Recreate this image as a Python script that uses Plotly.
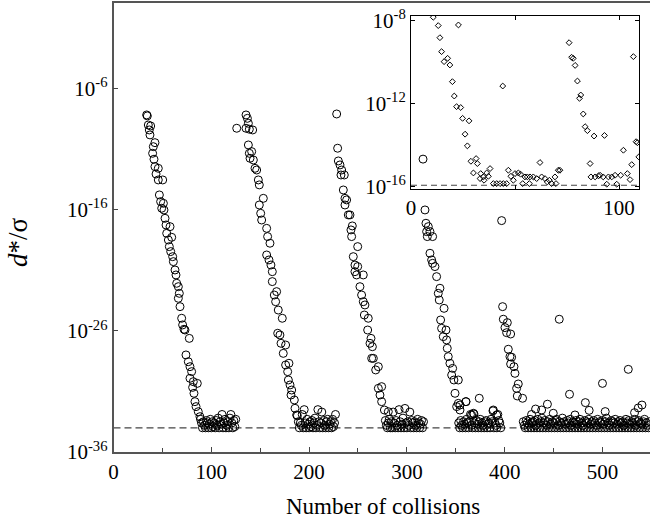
import numpy as np
import plotly.graph_objects as go

# ---------------- main panel data (collision number, log10(d*/sigma)) ----------------
burst1_x = [33.9, 34.6, 35.6, 38.0, 36.6, 37.3, 42.4, 40.7, 40.0, 41.4, 42.4, 45.8, 43.5, 45.8, 50.3,
            46.9, 48.2, 51.0, 49.3, 51.6, 52.7, 53.7, 57.8, 54.4, 56.1, 59.5, 57.1, 58.5, 60.5, 61.2,
            62.9, 63.9, 64.6, 66.3, 67.3, 66.3, 68.0, 69.7, 70.7, 73.1, 72.1, 77.5, 74.1, 76.5, 78.2,
            79.9, 78.2, 81.6, 85.7, 80.9, 82.3, 83.3, 84.4, 86.7, 88.4]
burst1_log = [-8.15, -8.23, -8.98, -9.06, -9.39, -9.80, -10.44, -10.77, -11.32, -11.81, -12.42, -12.56,
              -13.03, -13.52, -13.52, -14.76, -15.31, -15.45, -15.86, -16.0, -16.69, -17.24, -17.38,
              -17.93, -18.48, -18.26, -19.03, -19.44, -19.86, -20.27, -20.96, -21.37, -22.06, -22.34,
              -22.89, -23.3, -23.99, -24.95, -25.5, -25.92, -25.86, -26.61, -27.98, -28.54, -28.95,
              -29.36, -29.91, -30.19, -30.33, -30.66, -31.15, -31.84, -32.25, -32.67, -33.08]

burst2_x = [126.0, 135.5, 136.9, 137.9, 135.5, 138.9, 142.3, 137.9, 138.9, 141.3, 139.6, 143.0, 144.7,
            146.4, 148.1, 149.1, 153.2, 149.1, 150.5, 151.5, 156.6, 157.6, 160.0, 156.6, 159.0, 161.0,
            162.4, 162.4, 166.8, 164.4, 165.8, 168.5, 172.6, 167.9, 170.2, 171.3, 176.0, 173.6, 179.4,
            176.0, 178.1, 178.8, 180.5, 182.2, 181.5, 184.9, 185.6, 187.3]
burst2_log = [-9.25, -8.15, -8.43, -8.84, -9.25, -9.33, -9.39, -10.63, -11.32, -11.18, -11.73, -11.87,
              -12.56, -12.7, -13.52, -13.93, -15.04, -15.59, -16.28, -16.83, -17.52, -18.2, -18.75,
              -19.72, -20.13, -20.55, -21.1, -21.92, -22.75, -23.03, -23.58, -24.27, -24.95, -26.19,
              -26.33, -27.02, -27.16, -27.85, -28.67, -28.81, -29.36, -30.05, -30.46, -30.88, -31.29,
              -31.7, -32.39, -32.94]

burst3_x = [228.2, 229.2, 229.9, 231.6, 233.3, 236.0, 232.6, 235.0, 236.7, 238.4, 236.7, 240.1, 241.8,
            244.2, 242.8, 243.5, 249.7, 245.2, 246.9, 249.7, 246.9, 248.6, 255.4, 252.0, 253.7, 255.4,
            257.1, 256.5, 260.5, 259.9, 263.3, 262.3, 264.7, 264.0, 265.7, 270.8, 268.1, 274.2, 270.8,
            272.5, 274.2, 277.0, 281.0]
burst3_log = [-8.07, -10.9, -11.95, -12.28, -12.7, -13.11, -13.11, -14.35, -15.04, -15.17, -15.59,
              -16.41, -16.41, -17.32, -17.65, -18.2, -19.03, -19.86, -20.55, -20.68, -21.1, -21.37,
              -21.37, -22.34, -23.03, -23.58, -23.85, -24.68, -24.95, -25.92, -26.61, -27.02, -27.3,
              -28.26, -28.26, -28.95, -29.22, -30.6, -30.74, -31.29, -31.84, -32.53, -32.67]

burst4_x = [316.5, 318.5, 319.5, 321.9, 320.2, 323.6, 320.9, 326.3, 323.6, 325.3, 326.3, 328.7, 330.4,
            333.8, 332.1, 333.1, 338.0, 334.5, 335.5, 340.0, 337.2, 340.6, 341.3, 342.3, 344.0, 346.8,
            345.8, 348.1, 352.6, 349.2, 352.6, 354.3, 350.9, 360.4, 354.3]
burst4_log = [-11.8, -16.0, -17.1, -17.38, -17.79, -17.79, -18.2, -18.2, -19.58, -20.13, -20.41, -20.68,
              -21.51, -22.47, -22.89, -23.44, -24.13, -25.09, -25.78, -25.92, -26.47, -26.74, -27.43,
              -28.12, -28.67, -29.09, -29.64, -30.05, -30.05, -31.15, -31.98, -32.12, -32.25, -31.84,
              -32.53]

burst5_x = [396.9, 397.9, 398.6, 402.7, 400.3, 402.0, 406.1, 403.7, 405.4, 407.1, 406.1, 409.5, 410.5,
            413.9, 412.2, 412.9, 418.3]
burst5_log = [-16.88, -23.99, -25.03, -25.31, -25.72, -26.14, -26.25, -27.51, -28.12, -28.17, -28.73,
              -28.95, -29.5, -30.38, -30.74, -31.37, -31.56]

# plateau values (one per collision) after each burst
floor1_start = 89
floor1_log = [-33.3, -33.6, -34.0, -33.5, -33.8, -34.0, -33.4, -33.6, -34.0, -33.7, -33.3, -34.0, -33.5,
              -33.9, -33.6, -34.0, -33.4, -33.8, -33.2, -34.0, -33.5, -33.7, -32.9, -34.0, -33.6, -33.3,
              -34.0, -33.8, -33.5, -34.0, -33.2, -32.9, -33.6, -34.0, -33.4, -33.9, -33.3]
floor2_start = 188
floor2_log = [-33.0, -33.5, -34.0, -33.6, -33.8, -32.9, -34.0, -32.5, -33.6, -34.0, -33.3, -33.7, -34.0,
              -33.5, -33.9, -33.4, -34.0, -33.6, -33.2, -34.0, -33.8, -32.5, -33.5, -34.0, -33.6, -32.7,
              -34.0, -33.4, -33.8, -34.0, -33.5, -33.3, -34.0, -33.7, -33.5, -34.0, -33.3, -33.9, -33.6,
              -32.9]
floor3_start = 278
floor3_log = [-33.4, -33.8, -34.0, -33.6, -33.3, -34.0, -33.5, -34.0, -32.7, -33.6, -34.0, -33.4, -33.8,
              -34.0, -32.5, -33.5, -34.0, -33.7, -33.2, -34.0, -32.4, -33.6, -34.0, -33.5, -33.8, -32.7,
              -34.0, -33.4, -33.6, -34.0, -33.5, -33.8, -34.0, -33.3, -33.6, -34.0, -33.7, -33.4, -34.0,
              -33.5]
floor4_start = 353
floor4_log = [-33.6, -34.0, -33.4, -33.8, -34.0, -33.5, -33.7, -34.0, -33.3, -33.6, -34.0, -33.5, -32.9,
              -33.8, -34.0, -32.8, -33.6, -34.0, -33.4, -33.7, -34.0, -33.5, -33.3, -34.0, -33.6, -33.8,
              -34.0, -33.5, -33.4, -34.0, -33.7, -33.6, -34.0, -33.3, -33.5, -32.6, -34.0, -33.6, -33.8,
              -34.0, -32.9, -33.4, -33.6, -34.0]
floor5_start = 419
floor5_log = [-33.5, -33.8, -34.0, -33.4, -33.6, -34.0, -33.7, -33.3, -34.0, -33.6,
              -33.5, -34.0, -33.4, -33.8, -34.0, -33.3, -33.6, -34.0, -33.5, -33.2,
              -34.0, -33.6, -33.4, -34.0, -33.8, -33.5, -34.0, -33.3, -33.7, -34.0,
              -33.5, -33.6, -34.0, -33.4, -33.3, -34.0, -33.8, -33.5, -34.0, -33.6,
              -33.2, -34.0, -33.5, -33.7, -34.0, -33.4, -33.6, -34.0, -33.3, -33.8,
              -34.0, -33.5, -33.6, -34.0, -33.4, -33.7, -34.0, -33.5, -33.3, -34.0,
              -33.6, -33.8, -34.0, -33.4, -33.5, -34.0, -33.6, -33.3, -34.0, -33.7,
              -33.5, -34.0, -33.4, -33.6, -34.0, -33.8, -33.3, -34.0, -33.5, -33.6,
              -34.0, -33.4, -33.7, -34.0, -33.5, -33.2, -34.0, -33.6, -33.8, -34.0,
              -33.4, -33.5, -34.0, -33.6, -33.3, -34.0, -33.7, -33.5, -34.0, -33.4,
              -33.6, -34.0, -33.5, -33.8, -34.0, -33.3, -33.6, -34.0, -33.4, -33.7,
              -34.0, -33.5, -33.6, -34.0, -33.3, -33.8, -34.0, -33.5, -33.4, -34.0,
              -33.6, -33.7, -34.0, -33.5, -33.3, -34.0, -33.6, -33.8, -34.0, -33.5]

# isolated excursions above the plateau
spikes_x = [360.4, 366.2, 368.6, 374.0, 388.4, 391.8, 427.5, 431.6, 437.8, 443.7, 449.7, 455.8, 466.3,
            471.9, 482.5, 486.4, 500.0, 502.8, 526.4, 532.8, 536.6, 540.4]
spikes_log = [-31.84, -32.94, -32.86, -31.56, -32.53, -32.94, -32.9, -32.45, -32.53, -32.05, -32.8,
              -25.03, -31.23, -32.94, -31.92, -32.56, -30.33, -32.66, -29.17, -32.75, -32.36, -32.12]

noise_floor_main = 1e-34

# ---------------- inset data ----------------
inset_x = [10.7, 13.1, 13.9, 14.7, 15.9, 17.6, 18.7, 22.8, 19.9, 20.8, 21.9, 23.9, 24.8, 27.9, 26.0,
           27.1, 28.8, 31.3, 31.9, 30.0, 33.5, 33.2, 34.8, 36.4, 38.0, 37.2, 35.1, 39.6, 41.2, 42.8,
           44.4, 46.0, 44.1, 46.8, 48.0, 49.2, 50.0, 51.6, 52.7, 53.7, 54.8, 55.9, 56.9, 57.2, 58.8,
           60.4, 62.0, 62.8, 64.4, 65.5, 66.5, 67.6, 69.2, 69.7, 70.8, 71.6, 76.0, 77.2, 78.0, 78.9,
           80.0, 81.0, 81.6, 82.8, 83.7, 84.8, 88.0, 86.1, 86.5, 88.5, 90.1, 90.9, 93.0, 92.4, 94.1,
           94.9, 96.5, 98.1, 98.9, 100.8, 102.1, 104.0, 105.3, 106.1, 106.9, 108.2, 108.8, 109.5]
inset_log = [-7.86, -8.26, -8.84, -9.51, -9.99, -9.83, -10.15, -8.23, -10.95, -11.64, -12.15, -12.19,
             -12.71, -12.83, -13.47, -14.03, -14.77, -14.64, -14.88, -15.33, -15.36, -15.6, -15.52,
             -15.33, -15.12, -15.49, -15.68, -15.84, -15.84, -15.84, -15.84, -15.84, -11.16, -15.2,
             -15.49, -15.68, -15.36, -15.33, -15.39, -15.84, -15.52, -15.52, -15.84, -15.52, -15.52,
             -15.6, -14.83, -15.52, -15.6, -15.76, -15.68, -15.84, -15.52, -15.84, -15.2, -15.2,
             -9.08, -9.78, -9.83, -10.17, -10.92, -11.75, -11.59, -12.5, -13.11, -13.3, -13.56, -14.88,
             -15.52, -15.52, -15.47, -15.44, -13.53, -15.52, -15.87, -15.52, -15.52, -15.44, -15.87,
             -15.44, -14.24, -15.36, -15.65, -14.93, -9.75, -13.83, -13.88, -14.56]
noise_floor_inset = 1.2e-16

main_xrange = [0, 548.6]
main_ylog_range = [-36, 1.1]
inset_xrange = [0, 109.6]
inset_ylog_range = [-16.1, -7.8]

main_xticks = [0, 100, 200, 300, 400, 500]
main_xminor = [50, 150, 250, 350, 450, 550]
main_ytick_exp = [-36, -26, -16, -6]
inset_ytick_exp = [-16, -12, -8]
inset_xticks = [0, 50, 100]
inset_xticktext = ["0", "", "100"]

# ---------------- assemble ----------------
main_x = burst1_x + burst2_x + burst3_x + burst4_x + burst5_x + spikes_x
main_log = burst1_log + burst2_log + burst3_log + burst4_log + burst5_log + spikes_log
for start, vals in [(floor1_start, floor1_log), (floor2_start, floor2_log), (floor3_start, floor3_log),
                    (floor4_start, floor4_log), (floor5_start, floor5_log)]:
    main_x += list(range(start, start + len(vals)))
    main_log += vals
main_y = 10.0 ** np.array(main_log)
inset_y = 10.0 ** np.array(inset_log)

FONT = "Liberation Serif, Times New Roman, Times, serif"

fig = go.Figure()
fig.add_trace(go.Scatter(x=main_xrange, y=[noise_floor_main] * 2, mode="lines",
                         line=dict(color="#444", width=1.3, dash="7px,4px"),
                         xaxis="x", yaxis="y", hoverinfo="skip"))
fig.add_trace(go.Scatter(x=main_x, y=main_y, mode="markers",
                         marker=dict(symbol="circle-open", size=8, color="black", line=dict(width=1)),
                         xaxis="x", yaxis="y"))
fig.add_trace(go.Scatter(x=inset_xrange, y=[noise_floor_inset] * 2, mode="lines",
                         line=dict(color="#444", width=1.2, dash="6px,4px"),
                         xaxis="x2", yaxis="y2", hoverinfo="skip"))
fig.add_trace(go.Scatter(x=inset_x, y=inset_y, mode="markers",
                         marker=dict(symbol="diamond-open", size=4.5, color="black", line=dict(width=1)),
                         xaxis="x2", yaxis="y2"))

tickfont = dict(family=FONT, size=21, color="black")

fig.update_layout(
    width=650, height=522,
    margin=dict(l=0, r=0, t=0, b=0),
    paper_bgcolor="white", plot_bgcolor="rgba(0,0,0,0)",
    showlegend=False,
    font=dict(family=FONT, color="black"),
    xaxis=dict(domain=[113.5 / 650, 1.0], range=main_xrange, anchor="y",
               tickvals=main_xticks, ticks="inside", ticklen=5, tickwidth=1.2, tickcolor="#444",
               minor=dict(tickvals=main_xminor, ticks="inside", ticklen=4, tickwidth=1.2, tickcolor="#444"),
               showline=True, linecolor="#555", linewidth=1.5, mirror=True,
               showgrid=False, zeroline=False, tickfont=tickfont, automargin=False),
    yaxis=dict(domain=[70 / 522, 519 / 522], type="log", range=main_ylog_range, anchor="x",
               tickvals=[10.0 ** e for e in main_ytick_exp],
               ticktext=["10<sup>%d</sup>" % e for e in main_ytick_exp],
               ticks="inside", ticklen=5, tickwidth=1.2, tickcolor="#444",
               showline=True, linecolor="#555", linewidth=1.5, mirror=False,
               showgrid=False, zeroline=False, tickfont=tickfont, automargin=False),
    xaxis2=dict(domain=[411 / 650, 639 / 650], range=inset_xrange, anchor="y2",
                tickvals=inset_xticks, ticktext=inset_xticktext,
                ticks="inside", ticklen=4, tickcolor="black",
                showline=True, linecolor="black", linewidth=1, mirror="ticks",
                showgrid=False, zeroline=False, tickfont=tickfont, automargin=False),
    yaxis2=dict(domain=[(522 - 189) / 522, (522 - 16) / 522], type="log", range=inset_ylog_range,
                anchor="x2",
                tickvals=[10.0 ** e for e in inset_ytick_exp],
                ticktext=["10<sup>%d</sup>" % e for e in inset_ytick_exp],
                ticks="inside", ticklen=4, tickcolor="black",
                showline=True, linecolor="black", linewidth=1, mirror="ticks",
                showgrid=False, zeroline=False, tickfont=tickfont, automargin=False),
    annotations=[
        dict(text="Number of collisions", xref="paper", yref="paper", x=383 / 650, y=1 - 506 / 522,
             xanchor="center", yanchor="middle", showarrow=False,
             font=dict(family=FONT, size=23, color="black")),
        dict(text="<i>d</i>*/σ", xref="paper", yref="paper", x=18 / 650, y=1 - 242 / 522,
             xanchor="center", yanchor="middle", showarrow=False, textangle=-90,
             font=dict(family=FONT, size=27, color="black")),
    ],
)

fig.write_html("out.html", config={"displayModeBar": False},
               post_script="document.body.style.margin='0';document.body.style.padding='0';")
